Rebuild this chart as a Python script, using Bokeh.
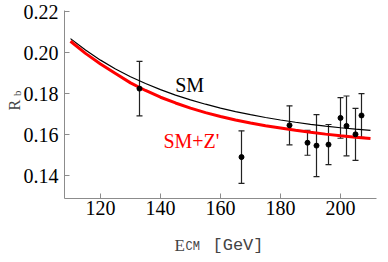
from bokeh.plotting import figure
from bokeh.models import ColumnDataSource, Whisker, TeeHead, Label, Range1d, CustomJSTickFormatter
from bokeh.embed import file_html
from bokeh.resources import INLINE

# ---- data ----
E_curve = [110, 115, 120, 125, 130, 135, 140, 145, 150, 155, 160,
           165, 170, 175, 180, 185, 190, 195, 200, 205, 210]
Rb_SM = [0.2068, 0.2012, 0.1963, 0.1920, 0.1882, 0.1849, 0.1819, 0.1792, 0.1769, 0.1748, 0.1729,
         0.1712, 0.1697, 0.1683, 0.1671, 0.1660, 0.1650, 0.1641, 0.1633, 0.1626, 0.1620]
Rb_SMZ = [0.2055, 0.1996, 0.1944, 0.1898, 0.1852, 0.1815, 0.1782, 0.1754, 0.1729, 0.1707, 0.1688,
          0.1671, 0.1656, 0.1643, 0.1632, 0.1621, 0.1611, 0.1602, 0.1594, 0.1587, 0.1581]

E_data = [133, 167, 183, 189, 192, 196, 200, 202, 205, 207]
Rb_data = [0.1824, 0.1490, 0.1645, 0.1560, 0.1546, 0.1551, 0.1681, 0.1642, 0.1601, 0.1693]
Rb_err = [0.0133, 0.0128, 0.0095, 0.0061, 0.0151, 0.0098, 0.0099, 0.0146, 0.0127, 0.0107]

x_ticks = [120, 140, 160, 180, 200]
y_ticks = [0.14, 0.16, 0.18, 0.20, 0.22]

E_MIN, E_MAX = 108, 212          # extent of the drawn axes
R_MIN, R_MAX = 0.1288, 0.2205

SERIF = "Times New Roman"
MONO = "Courier New"

# the frame fills the whole canvas; axes are drawn at fixed locations inside it
p = figure(width=380, height=254, output_backend="svg", toolbar_location=None,
           x_range=Range1d(86.667, 213.333), y_range=Range1d(0.10148, 0.22539),
           min_border=0)
p.outline_line_color = None
p.grid.visible = False

p.xaxis.fixed_location = R_MIN
p.xaxis.bounds = (E_MIN, E_MAX)
p.yaxis.fixed_location = E_MIN
p.yaxis.bounds = (R_MIN, R_MAX)

p.xaxis.axis_line_color = "#8c8c8c"
p.yaxis.axis_line_color = "#8c8c8c"
p.xaxis.major_tick_line_color = "#8c8c8c"
p.yaxis.major_tick_line_color = "#8c8c8c"
p.xaxis.minor_tick_line_color = "#8c8c8c"
p.yaxis.minor_tick_line_color = "#8c8c8c"
p.xaxis.major_tick_in = 5
p.yaxis.major_tick_in = 5
p.xaxis.major_tick_out = 0
p.yaxis.major_tick_out = 0
p.xaxis.minor_tick_in = 3
p.yaxis.minor_tick_in = 3
p.xaxis.minor_tick_out = 0
p.yaxis.minor_tick_out = 0
p.xaxis.major_label_text_font = SERIF
p.yaxis.major_label_text_font = SERIF
p.xaxis.major_label_text_font_size = "20px"
p.yaxis.major_label_text_font_size = "20px"
p.xaxis.major_label_text_color = "black"
p.yaxis.major_label_text_color = "black"

p.xaxis.ticker = x_ticks
p.xaxis.ticker.num_minor_ticks = 4
p.yaxis.ticker = y_ticks
p.yaxis.ticker.num_minor_ticks = 4
p.yaxis.formatter = CustomJSTickFormatter(code="return tick.toFixed(2);")
p.xaxis.major_label_standoff = 3
p.yaxis.major_label_standoff = 6

# curves
src_c = ColumnDataSource(dict(x=E_curve, sm=Rb_SM, smz=Rb_SMZ))
p.line("x", "sm", source=src_c, line_color="black", line_width=1.2)
p.line("x", "smz", source=src_c, line_color="#ff0000", line_width=3)

# data with error bars
lo = [v - e for v, e in zip(Rb_data, Rb_err)]
hi = [v + e for v, e in zip(Rb_data, Rb_err)]
src_d = ColumnDataSource(dict(x=E_data, y=Rb_data, lo=lo, hi=hi))
w = Whisker(source=src_d, base="x", lower="lo", upper="hi", dimension="height",
            line_color="#222222", line_width=1.2,
            upper_head=TeeHead(size=6, line_color="#222222", line_width=1.2),
            lower_head=TeeHead(size=6, line_color="#222222", line_width=1.2))
p.add_layout(w)
p.scatter("x", "y", source=src_d, size=5, color="black")

# in-plot labels
p.add_layout(Label(x=149.7, y=0.1843, text="SM", text_font=SERIF, text_font_size="20px",
                   text_color="black", text_align="center", text_baseline="alphabetic"))
p.add_layout(Label(x=150.3, y=0.1570, text="SM+Z'", text_font=SERIF, text_font_size="20px",
                   text_color="#ff0000", text_align="center", text_baseline="alphabetic"))

# y axis label R_b
p.add_layout(Label(x=91.33, y=0.1717, text="R", angle=90, angle_units="deg",
                   text_font=SERIF, text_font_size="16px",
                   text_align="left", text_baseline="alphabetic"))
p.add_layout(Label(x=92.33, y=0.1788, text="b", angle=90, angle_units="deg",
                   text_font=SERIF, text_font_size="11px",
                   text_align="left", text_baseline="alphabetic"))

# x axis label E_CM [GeV]
p.add_layout(Label(x=144.67, y=0.1059, text="E", text_font=SERIF, text_font_size="17px",
                   text_align="left", text_baseline="alphabetic"))
p.add_layout(Label(x=148.33, y=0.1049, text="CM", text_font=MONO, text_font_size="12px",
                   text_align="left", text_baseline="alphabetic"))
p.add_layout(Label(x=157.33, y=0.1059, text="[GeV]", text_font=MONO, text_font_size="17px",
                   text_align="left", text_baseline="alphabetic"))

open("out.html", "w").write(file_html(p, INLINE))
